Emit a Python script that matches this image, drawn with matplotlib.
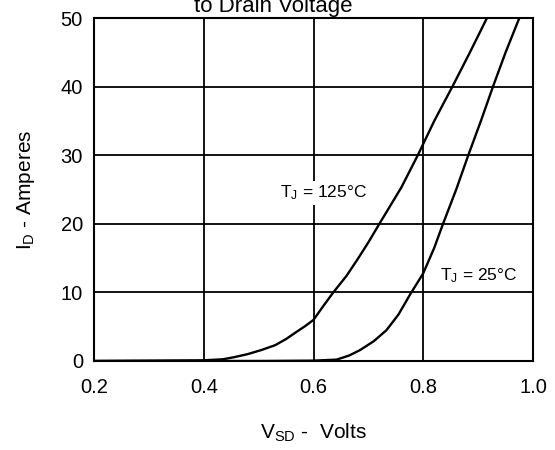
import matplotlib
matplotlib.use('Agg')
import matplotlib.pyplot as plt

plt.rcParams['font.family'] = ['Liberation Sans', 'DejaVu Sans']
plt.rcParams['mathtext.default'] = 'regular'

# source-drain diode curves
v125 = [0.20, 0.30, 0.40, 0.435, 0.455, 0.48, 0.505, 0.53, 0.55, 0.57, 0.585, 0.60, 0.615, 0.636,
        0.66, 0.68, 0.70, 0.72, 0.76, 0.79, 0.82, 0.853, 0.885, 0.916]
i125 = [0.0, 0.05, 0.1, 0.25, 0.55, 1.0, 1.6, 2.3, 3.2, 4.3, 5.1, 6.0, 7.7, 10.0,
        12.4, 14.8, 17.3, 20.0, 25.3, 30.0, 35.0, 40.0, 45.0, 50.0]
v25 = [0.20, 0.50, 0.60, 0.642, 0.665, 0.685, 0.71, 0.733, 0.755, 0.776, 0.79, 0.80, 0.82,
       0.836, 0.86, 0.882, 0.905, 0.927, 0.95, 0.975]
i25 = [0.0, 0.0, 0.05, 0.2, 0.8, 1.6, 2.9, 4.5, 6.8, 9.7, 11.5, 12.8, 16.5,
       20.0, 25.0, 30.0, 35.0, 40.0, 45.0, 50.0]

xticks = [0.2, 0.4, 0.6, 0.8, 1.0]
yticks = [0, 10, 20, 30, 40, 50]

fig = plt.figure(figsize=(5.55, 4.5), dpi=100)
ax = fig.add_axes([0.1694, 0.1978, 0.791, 0.762])

ax.plot(v125, i125, color='black', lw=1.7)
ax.plot(v25, i25, color='black', lw=1.7)

ax.set_xlim(0.2, 1.0)
ax.set_ylim(0, 50)
ax.set_xticks(xticks)
ax.set_xticklabels(['%.1f' % t for t in xticks])
ax.set_yticks(yticks)
ax.grid(True, color='black', lw=1.3)
ax.tick_params(length=0, labelsize=14.5)
ax.tick_params(axis='x', pad=12)
ax.tick_params(axis='y', pad=8)
for s in ax.spines.values():
    s.set_linewidth(1.5)

box = dict(facecolor='white', edgecolor='none', pad=2)
ax.text(0.539, 24.5, 'T$_J$ = 125°C', fontsize=12.5, va='center', ha='left', bbox=box)
ax.text(0.830, 12.5, 'T$_J$ = 25°C', fontsize=12.5, va='center', ha='left', bbox=box)

ax.set_xlabel('V$_{SD}$ -  Volts', fontsize=15, labelpad=18)
ax.set_ylabel('I$_D$ - Amperes', fontsize=15, labelpad=17)

fig.text(0.492, 1 - 12 / 450, 'to Drain Voltage', fontsize=16, ha='center', va='baseline')

fig.savefig('out.png', dpi=100)
